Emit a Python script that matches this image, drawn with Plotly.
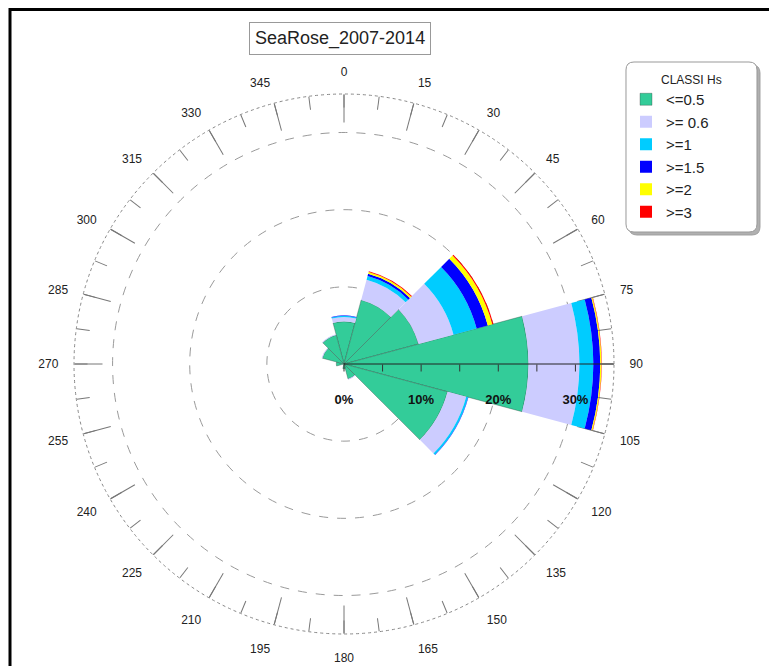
import plotly.graph_objects as go

# ---------------- data ----------------
directions = [0, 30, 60, 90, 120, 150, 180, 210, 240, 270, 300, 330]
class_names = ["<=0.5", ">= 0.6", ">=1", ">=1.5", ">=2", ">=3"]
legend_title = "CLASSI Hs"
chart_title = "SeaRose_2007-2014"
hs_le_05 = [5.5, 8.6, 10.0, 23.9, 13.9, 2.0, 0.6, 0.0, 0.0, 1.0, 2.9, 3.9]
hs_ge_06 = [0.6, 2.7, 4.7, 6.6, 2.5, 0.1, 0.0, 0.0, 0.0, 0.0, 0.1, 0.1]
hs_ge_1 = [0.15, 0.5, 3.1, 1.8, 0.25, 0.0, 0.0, 0.0, 0.0, 0.0, 0.0, 0.0]
hs_ge_15 = [0.05, 0.3, 1.5, 0.9, 0.05, 0.0, 0.0, 0.0, 0.0, 0.0, 0.0, 0.0]
hs_ge_2 = [0.0, 0.25, 0.6, 0.15, 0.0, 0.0, 0.0, 0.0, 0.0, 0.0, 0.0, 0.0]
hs_ge_3 = [0.0, 0.1, 0.15, 0.05, 0.0, 0.0, 0.0, 0.0, 0.0, 0.0, 0.0, 0.0]
series = [hs_le_05, hs_ge_06, hs_ge_1, hs_ge_15, hs_ge_2, hs_ge_3]
colors = ["#33CC99", "#CCCCFF", "#00CCFF", "#0000FF", "#FFFF00", "#FF0000"]

angle_ticks = [i * 7.5 for i in range(48)]
angle_labels = [str(int(a)) if a % 15 == 0 else "" for a in angle_ticks]
long_ticks = [i * 15 for i in range(24)]
radial_ticks = [0, 5, 10, 15, 20, 25, 30]
radial_labels = ["<br><b>%d%%</b>" % v if v % 10 == 0 else "" for v in radial_ticks]
grid_rings = [10, 20, 30]
r_max = 35
outer_ring = [35]

FONT = "Arial, Liberation Sans, sans-serif"
NARROW = "Liberation Sans Narrow, Arial Narrow, Arial, sans-serif"

W, H = 769, 658          # page body has an 8px margin
CX, CY, R = 336, 356, 270  # polar centre / radius in figure pixels
R3 = R * 36 / 35          # overlay whose range is [0, 36]
LEG = (618, 54, 749, 224)  # legend box (pixels, top-left origin)


def dom(rad):
    return dict(x=[(CX - rad) / W, (CX + rad) / W],
                y=[(H - CY - rad) / H, (H - CY + rad) / H])


def rounded_box(x0, y0, x1, y1, rad):
    def P(x, y):
        return "%.5f,%.5f" % (x / W, 1 - y / H)
    return ("M" + P(x0 + rad, y0) + " L" + P(x1 - rad, y0) + " Q" + P(x1, y0) + " " + P(x1, y0 + rad) +
            " L" + P(x1, y1 - rad) + " Q" + P(x1, y1) + " " + P(x1 - rad, y1) +
            " L" + P(x0 + rad, y1) + " Q" + P(x0, y1) + " " + P(x0, y1 - rad) +
            " L" + P(x0, y0 + rad) + " Q" + P(x0, y0) + " " + P(x0 + rad, y0) + " Z")


fig = go.Figure()

for sp in ["polar", "polar3"]:
    fig.add_trace(go.Scatterpolar(r=[0], theta=[0], mode="markers", marker=dict(size=0.1, opacity=0),
                                  showlegend=False, hoverinfo="skip", subplot=sp))

for name, vals, col in zip(class_names, series, colors):
    first = col == colors[0]
    fig.add_trace(go.Barpolar(
        r=vals, theta=directions, width=[30] * len(directions), name=name,
        marker=dict(color=col, line=dict(color="rgba(40,40,40,0.5)" if first else col,
                                         width=0.6 if first else 0)),
        subplot="polar2",
    ))

fig.update_layout(
    width=W, height=H,
    margin=dict(l=0, r=0, t=0, b=0),
    paper_bgcolor="white",
    font=dict(family=FONT, color="#222"),
    showlegend=True,
    polar=dict(
        domain=dom(R), bgcolor="white",
        radialaxis=dict(range=[0, r_max], tickvals=grid_rings, showticklabels=False, ticks="",
                        showline=False, showgrid=True, gridcolor="#9a9a9a", gridwidth=1, griddash="dash"),
        angularaxis=dict(direction="clockwise", rotation=90, tickvals=long_ticks, ticks="inside",
                         ticklen=28, tickcolor="#777", tickwidth=1, showticklabels=False,
                         showgrid=False, showline=False),
    ),
    polar2=dict(
        domain=dom(R), bgcolor="rgba(0,0,0,0)", bargap=0, barmode="stack",
        radialaxis=dict(range=[0, r_max], angle=0, tickvals=radial_ticks, ticktext=radial_labels,
                        ticks="outside", ticklen=7, tickcolor="#333", showgrid=False,
                        showline=True, linecolor="#222", linewidth=1,
                        tickfont=dict(family=FONT, size=13, color="#111")),
        angularaxis=dict(direction="clockwise", rotation=90, tickvals=angle_ticks,
                         ticks="inside", ticklen=13, tickcolor="#777", tickwidth=1,
                         showticklabels=False, showgrid=False, showline=False),
    ),
    polar3=dict(
        domain=dom(R3), bgcolor="rgba(0,0,0,0)",
        radialaxis=dict(range=[0, 36], tickvals=outer_ring, showticklabels=False, ticks="",
                        showline=False, showgrid=True, gridcolor="#888", gridwidth=1, griddash="dot"),
        angularaxis=dict(direction="clockwise", rotation=90, tickvals=angle_ticks, ticktext=angle_labels,
                         ticks="outside", ticklen=5, tickcolor="rgba(0,0,0,0)",
                         tickfont=dict(family=NARROW, size=12, color="#222"),
                         showgrid=False, showline=False),
    ),
    legend=dict(
        x=LEG[0] / W, y=1 - 75 / H, xanchor="left", yanchor="top",
        bgcolor="rgba(0,0,0,0)", borderwidth=0,
        font=dict(size=15, family=FONT, color="#222"),
        tracegroupgap=0, itemwidth=30,
    ),
    annotations=[
        dict(text=chart_title, x=332 / W, y=1 - 30 / H, xref="paper", yref="paper",
             xanchor="center", yanchor="middle",
             showarrow=False, font=dict(size=18, family=FONT, color="#222"),
             bordercolor="#999", borderwidth=1, borderpad=5, bgcolor="white"),
        dict(text=legend_title, x=(LEG[0] + LEG[2]) / 2 / W, y=1 - 72 / H, xref="paper", yref="paper",
             xanchor="center", yanchor="middle", showarrow=False,
             font=dict(size=12, family=FONT, color="#222")),
    ],
    shapes=[
        dict(type="path", xref="paper", yref="paper",
             path=rounded_box(LEG[0] + 3, LEG[1] + 3, LEG[2] + 3, LEG[3] + 3, 8),
             line=dict(color="#a0a0a0", width=1), fillcolor="#b0b0b0", layer="above"),
        dict(type="path", xref="paper", yref="paper", path=rounded_box(*LEG, 8),
             line=dict(color="#999", width=1), fillcolor="white", layer="above"),
        dict(type="rect", xref="paper", yref="paper", x0=2 / W, y0=-0.1, x1=1.1, y1=1 - 1.5 / H,
             line=dict(color="black", width=3), fillcolor="rgba(0,0,0,0)", layer="above"),
    ],
)

fig.write_html("out.html")
